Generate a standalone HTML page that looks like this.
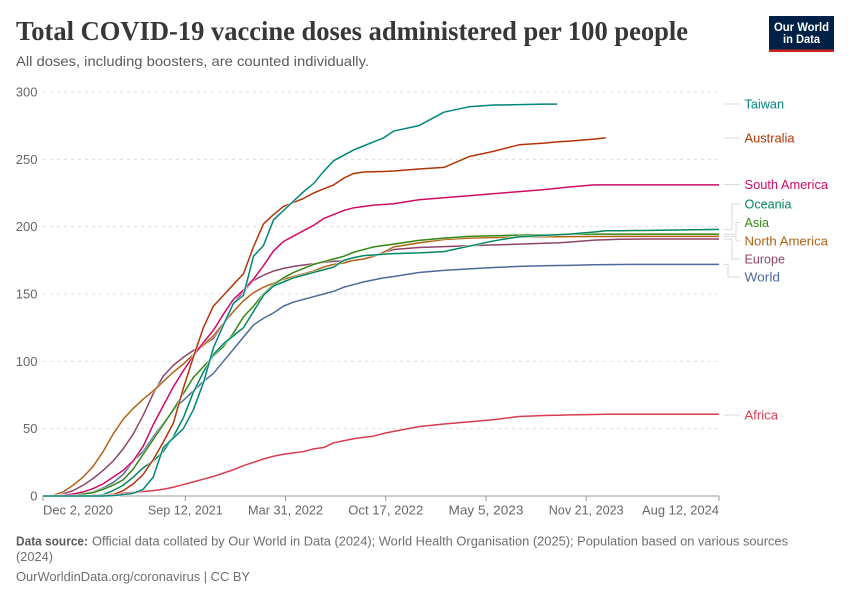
<!DOCTYPE html>
<html lang="en">
<head>
<meta charset="utf-8">
<title>Total COVID-19 vaccine doses administered per 100 people</title>
<style>
html,body{margin:0;padding:0;background:#fff;}
svg{display:block;}
text{font-family:"Liberation Sans",sans-serif;}
</style>
</head>
<body>
<svg id="chart" width="850" height="600" viewBox="0 0 850 600" xmlns="http://www.w3.org/2000/svg">
  <rect x="0" y="0" width="850" height="600" fill="#fff"/>
  <text x="16" y="40" font-size="27" font-weight="700" fill="#373737" textLength="672" lengthAdjust="spacingAndGlyphs" style="font-family:'Liberation Serif',serif">Total COVID-19 vaccine doses administered per 100 people</text>
  <text x="16" y="66" font-size="14" fill="#5b5b5b" textLength="353" lengthAdjust="spacingAndGlyphs">All doses, including boosters, are counted individually.</text>

  <g>
    <rect x="769" y="16" width="65" height="36" fill="#002147"/>
    <rect x="769" y="49.5" width="65" height="2.5" fill="#ce261e"/>
    <text x="801.5" y="31" font-size="12" font-weight="700" fill="#fff" text-anchor="middle" textLength="55" lengthAdjust="spacingAndGlyphs">Our World</text>
    <text x="801.5" y="43" font-size="12" font-weight="700" fill="#fff" text-anchor="middle" textLength="37" lengthAdjust="spacingAndGlyphs">in Data</text>
  </g>

  <g id="grid"></g>
  <g id="yaxis"></g>
  <g id="xaxis"></g>
  <g id="connectors"></g>
  <g id="lines"></g>
  <g id="labels"></g>

  <text x="16" y="545.5" font-size="13" font-weight="700" fill="#5b5b5b" textLength="72" lengthAdjust="spacingAndGlyphs">Data source:</text>
  <text x="92" y="545.5" font-size="13" fill="#6e6e6e" textLength="696" lengthAdjust="spacingAndGlyphs">Official data collated by Our World in Data (2024); World Health Organisation (2025); Population based on various sources</text>
  <text x="16" y="561" font-size="13" fill="#6e6e6e" textLength="37" lengthAdjust="spacingAndGlyphs">(2024)</text>
  <text x="16" y="581" font-size="13" fill="#6e6e6e" textLength="234" lengthAdjust="spacingAndGlyphs">OurWorldinData.org/coronavirus | CC BY</text>
</svg>
<script>
// Days since Dec 2, 2020 for every sample below
const days = [0,20,40,60,80,100,120,140,160,180,200,220,240,260,280,300,320,340,360,380,400,420,440,460,480,500,520,540,560,580,600,620,640,660,680,700,750,800,850,900,950,1000,1026,1050,1100,1123,1150,1200,1250,1300,1349];

const africa = [0,0,0.1,0.2,0.4,0.7,1,1.3,2,2.7,3.3,4,5,6.5,8.5,10.5,12.5,14.5,17,19.5,22.5,25,27.5,29.5,31,32,33,35,36,39.5,41,42.5,43.5,44.5,46.5,48,51.5,53.5,55,56.7,59,59.8,60,60.2,60.5,60.7,60.7,60.7,60.7,60.7,60.7];
const world = [0,0.1,0.5,1,1.7,3,6,10,16,26,33,44,54,64,71,78,85,91,100,109,118,127,132,136,141,144,146,148,150,152,155,157,159,160.5,162,163,166,167.5,168.7,169.7,170.5,171,171.2,171.3,171.7,171.8,171.9,172,172,172,172];
const europe = [0,0.3,1.5,4,8,13,19,26,35,46,60,76,89,97,103,108,112,117,128,143,152,160,164,167,169,170.5,171.5,172.5,173.5,174.3,174.5,175,176,178,181,183,184.5,185.2,185.8,186.5,187,187.7,188,188.5,190,190.3,190.7,190.8,190.8,190.8,190.8];
const northAmerica = [0,0.5,3,8,14,22,33,46,57,65,72,78,85,92,98,105,112,119,128,137,145,151,155,158,161,163,165,167,170,172,173,175,176,178,181,185,188,190.5,191.5,192,192.3,192.5,192.5,192.6,192.7,192.7,192.8,192.8,192.8,192.8,192.8];
const asia = [0,0.1,0.3,0.8,1.5,2.5,5,8,12,20,31,42,53,64,76,88,96,104,111,121,133,141,150,157,162,166,169,172,174,176,178,181,183,185,186,187,189.8,191.5,192.8,193.3,193.7,194,194.2,194.3,194.5,194.5,194.5,194.5,194.5,194.5,194.5];
const oceania = [0,0,0,0,0,0.2,1,4,8,14,21,26,33,44,58,77,92,105,113,119,125,137,149,156,159,162,164,166,168,170,175,177,178.5,179,179.5,180,180.5,181.5,185.5,189.5,192.5,193.5,194,194.5,196,197,197,197.2,197.4,197.7,198];
const southAmerica = [0,0.1,0.5,1.5,3,5.5,9,14,19,26,37,53,67,81,93,104,114,123,135,146,153,161,171,182,189,193,197,201,206,209,212,214,215,216,216.5,217,220,221.5,223,224.5,226,227.5,228.5,229.5,231,231,231,231,231,231,231];
const australia = [0,0,0,0,0,0,0.3,1,4,9,16,27,40,54,80,103,125,141,149,157,165,185,202,209,215,218,221,225,228,231,236,239.5,240.6,240.8,241,241.3,242.8,244,252,256,260.8,262,263,263.5,265,266,null,null,null,null,null];
const taiwan = [0,0,0,0,0,0,0,0.3,1,2,5,14,36,43,50,64,84,110,127,143,149,178,186,205,212,219,226,232,241,249,253,257,260,263,266,271,275,285,289,290.3,290.6,291,291,null,null,null,null,null,null,null,null];

const valueTicks = [0,50,100,150,200,250,300];
const dateTickDays = [0,284,484,684,884,1084,1349];
const dateTickLabels = ["Dec 2, 2020","Sep 12, 2021","Mar 31, 2022","Oct 17, 2022","May 5, 2023","Nov 21, 2023","Aug 12, 2024"];

const NS = "http://www.w3.org/2000/svg";
const X0 = 43, X1 = 719, Y0 = 496, Y300 = 92;
function xScale(d){ return X0 + (d / 1349) * (X1 - X0); }
function yScale(v){ return Y0 - (v / 300) * (Y0 - Y300); }
function mk(tag, attrs, parent){
  const el = document.createElementNS(NS, tag);
  for (const k in attrs) el.setAttribute(k, attrs[k]);
  parent.appendChild(el);
  return el;
}

const gridG = document.getElementById("grid");
const yG = document.getElementById("yaxis");
const xG = document.getElementById("xaxis");
const connG = document.getElementById("connectors");
const linesG = document.getElementById("lines");
const labelsG = document.getElementById("labels");

valueTicks.forEach(function(v){
  if (v > 0) {
    const g = mk("line", {x1:X0, x2:X1, y1:yScale(v), y2:yScale(v), stroke:"#dddddd", "stroke-dasharray":"3,4"}, gridG);
    
    
  }
  const t = mk("text", {x:37.5, y:yScale(v)+4.5, "font-size":13, fill:"#666", "text-anchor":"end"}, yG);
  
  
  t.textContent = v;
});

const axisLine = mk("line", {x1:X0, x2:X1, y1:Y0, y2:Y0, stroke:"#999"}, xG);


dateTickDays.forEach(function(d, i){
  const px = xScale(d);
  const tick = mk("line", {x1:px, x2:px, y1:Y0, y2:Y0+5, stroke:"#999"}, xG);
  
  
  const anchor = i === 0 ? "start" : (i === dateTickDays.length - 1 ? "end" : "middle");
  const t = mk("text", {x:px, y:514.5, "font-size":13, fill:"#666", "text-anchor":anchor, textLength:i===0?70:(i===dateTickDays.length-1?77:75), lengthAdjust:"spacingAndGlyphs"}, xG);
  
  
  t.textContent = dateTickLabels[i];
});

function lastValue(values){
  for (let i = values.length - 1; i >= 0; i--) if (values[i] !== null) return values[i];
  return 0;
}
function drawSeries(values, color){
  let d = "";
  values.forEach(function(v, i){
    if (v === null) return;
    d += (d ? "L" : "M") + xScale(days[i]).toFixed(2) + " " + yScale(v).toFixed(2);
  });
  const halo = mk("path", {d:d, fill:"none", stroke:"#fff", "stroke-width":2.6, "stroke-linejoin":"round", opacity:0.8}, linesG);
  
  
  const line = mk("path", {d:d, fill:"none", stroke:color, "stroke-width":1.5, "stroke-linejoin":"round"}, linesG);
  
  
}
function drawLabel(text, values, color, labelY, elbowX, width){
  const sy = yScale(lastValue(values));
  const straight = Math.abs(sy - labelY) < 2.5;
  const d = straight
    ? "M723.5 " + labelY + "H740"
    : "M723.5 " + sy.toFixed(1) + "H" + elbowX + "V" + labelY + "H740";
  const c = mk("path", {d:d, fill:"none", stroke:"#dadada", "stroke-width":1}, connG);
  
  
  const t = mk("text", {x:744.5, y:labelY+4.5, "font-size":13, fill:color, textLength:width, lengthAdjust:"spacingAndGlyphs"}, labelsG);
  
  
  t.textContent = text;
}

drawSeries(africa, "#d73c50");
drawSeries(world, "#4c6a9c");
drawSeries(europe, "#8c4569");
drawSeries(northAmerica, "#b16214");
drawSeries(asia, "#338711");
drawSeries(oceania, "#00875e");
drawSeries(southAmerica, "#cf0a66");
drawSeries(australia, "#b13507");
drawSeries(taiwan, "#00847e");

drawLabel("Taiwan", taiwan, "#00847e", 104, 732, 39.5);
drawLabel("Australia", australia, "#b13507", 138, 732, 50);
drawLabel("South America", southAmerica, "#cf0a66", 184.5, 732, 83.5);
drawLabel("Oceania", oceania, "#00875e", 204, 732, 47);
drawLabel("Asia", asia, "#338711", 222.5, 736, 24.5);
drawLabel("North America", northAmerica, "#b16214", 241, 736, 83.5);
drawLabel("Europe", europe, "#8c4569", 259, 732, 40.5);
drawLabel("World", world, "#4c6a9c", 277, 728, 35.5);
drawLabel("Africa", africa, "#d73c50", 415, 732, 33.5);
</script>
</body>
</html>
